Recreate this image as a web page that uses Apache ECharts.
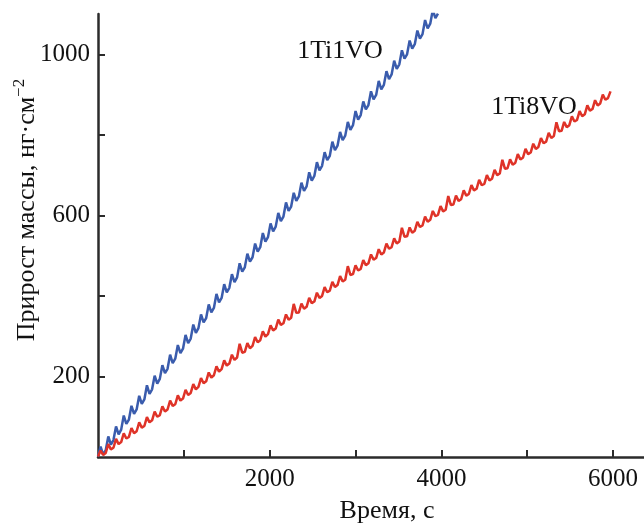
<!DOCTYPE html>
<html><head><meta charset="utf-8">
<script src="https://cdn.jsdelivr.net/npm/echarts@6/dist/echarts.min.js"></script>
<style>html,body{margin:0;padding:0;background:#fff}#c{width:644px;height:524px}</style>
</head><body><div id="c"></div>
<script>
// time samples, s
const timeSec = [0,30,60,90,120,150,180,210,240,270,300,330,360,390,420,450,480,510,540,570,600,630,660,690,720,750,780,810,840,870,900,930,960,990,1020,1050,1080,1110,1140,1170,1200,1230,1260,1290,1320,1350,1380,1410,1440,1470,1500,1530,1560,1590,1620,1650,1680,1710,1740,1770,1800,1830,1860,1890,1920,1950,1980,2010,2040,2070,2100,2130,2160,2190,2220,2250,2280,2310,2340,2370,2400,2430,2460,2490,2520,2550,2580,2610,2640,2670,2700,2730,2760,2790,2820,2850,2880,2910,2940,2970,3000,3030,3060,3090,3120,3150,3180,3210,3240,3270,3300,3330,3360,3390,3420,3450,3480,3510,3540,3570,3600,3630,3660,3690,3720,3750,3780,3810,3840,3870,3900,3930,3960,3990,4020,4050,4080,4110,4140,4170,4200,4230,4260,4290,4320,4350,4380,4410,4440,4470,4500,4530,4560,4590,4620,4650,4680,4710,4740,4770,4800,4830,4860,4890,4920,4950,4980,5010,5040,5070,5100,5130,5160,5190,5220,5250,5280,5310,5340,5370,5400,5430,5460,5490,5520,5550,5580,5610,5640,5670,5700,5730,5760,5790,5820,5850,5880,5910,5940,5970];
// mass gain, ng/cm2
const mass1Ti1VO = [1,26,6, 17,51,31, 42,76,56, 68,103,82, 93,127,107, 118,152,132, 143,178,157, 168,202,182, 194,228,208, 219,254,233,
  244,278,258, 269,303,283, 294,329,308, 320,354,334, 345,379,359, 370,405,384, 395,429,409, 420,454,434, 446,481,460, 471,505,485,
  496,530,510, 521,556,535, 546,580,560, 572,606,586, 597,632,611, 622,656,636, 647,681,661, 672,707,686, 698,732,712, 723,757,737,
  748,783,762, 773,807,787, 798,832,812, 824,859,838, 849,883,863, 874,908,888, 899,934,913, 924,958,938, 950,984,964, 975,1010,989,
  1000,1034,1014, 1025,1059,1039, 1050,1085,1064, 1076,1110,1090, 1101];
const mass1Ti8VO = [1,16,5, 10,32,19, 23,45,32, 37,59,46, 50,72,59, 64,86,73, 77,99,86, 91,113,100, 104,126,113, 118,140,127,
  131,153,140, 145,167,154, 159,181,168, 174,196,183, 188,210,197, 203,225,212, 218,240,227, 232,254,241, 247,281,259, 261,283,270,
  276,298,285, 290,312,299, 305,327,314, 319,341,328, 332,354,341, 346,380,358, 359,381,368, 373,395,382, 386,408,395, 400,422,409,
  413,435,422, 427,449,436, 440,474,452, 454,476,463, 467,489,476, 481,503,490, 494,516,503, 508,530,517, 521,543,530, 535,569,547,
  548,570,557, 562,584,571, 575,597,584, 589,611,598, 601,623,610, 614,648,626, 627,649,636, 640,662,649, 653,675,662, 666,688,675,
  678,700,687, 691,713,700, 704,738,716, 717,739,726, 730,752,739, 743,765,752, 756,778,765, 770,792,779, 783,805,792, 797,831,809,
  810,832,819, 824,846,833, 837,859,846, 851,873,860, 864,886,873, 878,900,887, 891,908];
const seriesNames = ['1Ti1VO', '1Ti8VO'];
const xTicks = [1000,2000,3000,4000,5000,6000];
const xLabels = [2000,4000,6000];
const yTicks = [200,400,600,800,1000];
const yLabels = [200,600,1000];

const pairs = (vals) => vals.map((v, i) => [timeSec[i], v]);
const FONT = 'Liberation Serif';
const axisColor = '#2b2b2b';

const chart = echarts.init(document.getElementById('c'), null, {renderer: 'canvas'});
chart.setOption({
  animation: false,
  backgroundColor: '#fff',
  grid: {left: 98, right: 0, top: 14, bottom: 67, containLabel: false},
  xAxis: {
    type: 'value', min: 0, max: 6360,
    splitLine: {show: false},
    axisLine: {show: true, lineStyle: {color: axisColor, width: 2.5}},
    axisTick: {show: true, inside: true, length: 7, lineStyle: {color: axisColor, width: 2}, customValues: xTicks},
    axisLabel: {customValues: xLabels, margin: 10, fontFamily: FONT, fontSize: 25, color: '#111', formatter: (v) => String(v)}
  },
  yAxis: {
    type: 'value', min: 0, max: 1100,
    splitLine: {show: false},
    axisLine: {show: true, lineStyle: {color: axisColor, width: 2.5}},
    axisTick: {show: true, inside: true, length: 7, lineStyle: {color: axisColor, width: 2}, customValues: yTicks},
    axisLabel: {customValues: yLabels, margin: 8, fontFamily: FONT, fontSize: 25, color: '#111', formatter: (v) => String(v)}
  },
  graphic: [
    {type: 'text', x: 387, y: 511, style: {text: 'Время, с', font: '26px "Liberation Serif"', fill: '#111', align: 'center', verticalAlign: 'middle'}},
    {type: 'text', x: 27, y: 210, rotation: Math.PI / 2, style: {
      text: '{m|Прирост массы, нг·см}{s|−2}', align: 'center', verticalAlign: 'middle',
      rich: {m: {fontFamily: FONT, fontSize: 26, fill: '#111'}, s: {fontFamily: FONT, fontSize: 17, fill: '#111', padding: [0, 0, 14, 0]}}
    }},
    {type: 'text', x: 340, y: 51, style: {text: seriesNames[0], font: '26px "Liberation Serif"', fill: '#111', align: 'center', verticalAlign: 'middle'}},
    {type: 'text', x: 534, y: 107, style: {text: seriesNames[1], font: '26px "Liberation Serif"', fill: '#111', align: 'center', verticalAlign: 'middle'}}
  ],
  series: [
    {name: seriesNames[0], type: 'line', data: pairs(mass1Ti1VO), showSymbol: false, symbol: 'none', clip: true,
     lineStyle: {color: '#3a5cad', width: 2.5}},
    {name: seriesNames[1], type: 'line', data: pairs(mass1Ti8VO), showSymbol: false, symbol: 'none', clip: true,
     lineStyle: {color: '#df3328', width: 2.5}}
  ]
});
</script></body></html>
